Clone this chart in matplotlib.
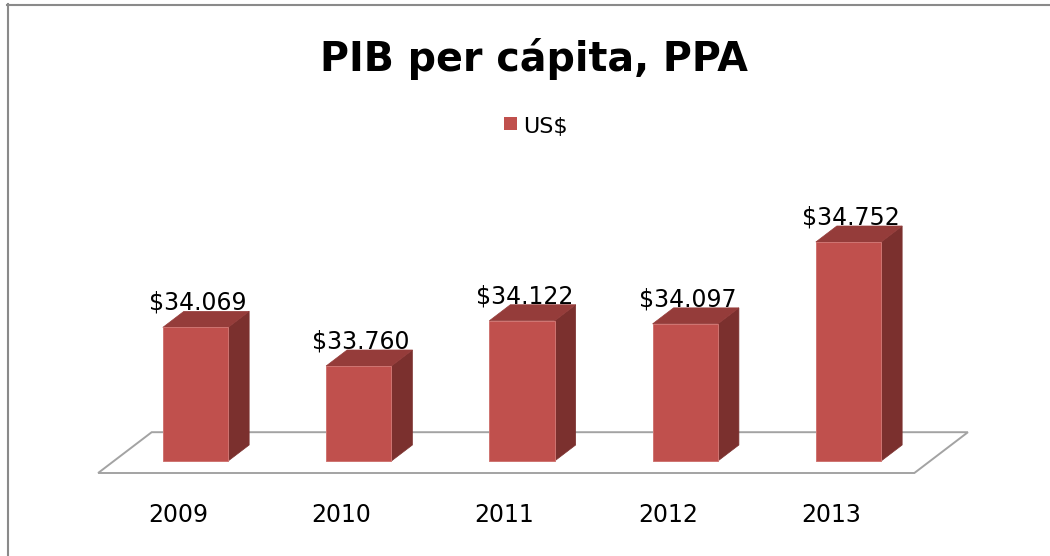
import matplotlib
matplotlib.use('Agg')
import matplotlib.pyplot as plt
from matplotlib.patches import Polygon, Rectangle
from matplotlib.lines import Line2D

years = ['2009', '2010', '2011', '2012', '2013']
gdp = [34069, 33760, 34122, 34097, 34752]
series_name = 'US$'
title = 'PIB per cápita, PPA'
y_min = 33000

W, H = 1050, 556
fig = plt.figure(figsize=(W / 100, H / 100), dpi=100)

# axes placed so that 1 category = 163.25 px and 1 value unit = 0.125 px
x_lo, x_hi = -0.7, 4.9
y_lo, y_hi = 32600, 35100
px_cat, px_val = 163.25, 0.125
left_px = 195.5 + x_lo * px_cat
bottom_px = 461 + (y_min - y_lo) * px_val
ax = fig.add_axes([left_px / W, (H - bottom_px) / H,
                   (x_hi - x_lo) * px_cat / W, (y_hi - y_lo) * px_val / H])
ax.set_xlim(x_lo, x_hi)
ax.set_ylim(y_lo, y_hi)
ax.axis('off')

front_c, top_c, side_c = '#C0504D', '#953C3A', '#7B302E'
bw = 0.4
dx, dy = 21 / px_cat, 16 / px_val  # depth of a bar in data units

# floor
n = len(years)
f0, f1 = -0.75, 1.8
floor = [(-0.5 + f0 * dx, y_min + f0 * dy), (n - 0.5 + f0 * dx, y_min + f0 * dy),
         (n - 0.5 + f1 * dx, y_min + f1 * dy), (-0.5 + f1 * dx, y_min + f1 * dy)]
ax.add_patch(Polygon(floor, closed=True, facecolor='white', edgecolor='#A3A3A3',
                     lw=1.4, zorder=1))

for i, v in enumerate(gdp):
    x0, x1 = i - bw / 2, i + bw / 2
    ax.add_patch(Polygon([(x1, y_min), (x1 + dx, y_min + dy), (x1 + dx, v + dy), (x1, v)],
                         closed=True, facecolor=side_c, edgecolor=side_c, lw=0.5, zorder=2))
    ax.add_patch(Polygon([(x0, v), (x1, v), (x1 + dx, v + dy), (x0 + dx, v + dy)],
                         closed=True, facecolor=top_c, edgecolor=top_c, lw=0.5, zorder=2))
    ax.add_patch(Rectangle((x0, y_min), bw, v - y_min, facecolor=front_c,
                           edgecolor='#CF7471', lw=0.7, zorder=3))
    lab = '$' + f'{v:,}'.replace(',', '.')
    ax.annotate(lab, xy=(i, v), xytext=(2.5, 17.5), textcoords='offset pixels',
                ha='center', va='baseline', fontsize=17, color='black', zorder=4)
    ax.annotate(years[i], xy=(i, y_min), xytext=(-17.5, -61), textcoords='offset pixels',
                ha='center', va='baseline', fontsize=17, color='black')

# title
fig.text(534 / W, 1 - 70.7 / H, title, ha='center', va='baseline',
         fontsize=28.5, fontweight='bold')

# legend
fig.patches.append(Rectangle((504 / W, 1 - 130 / H), 13 / W, 13 / H, facecolor=front_c,
                             edgecolor='none', transform=fig.transFigure, figure=fig))
fig.text(523 / W, 1 - 133.3 / H, series_name, ha='left', va='baseline', fontsize=16)

# outer frame (top and left edges visible)
fig.add_artist(Line2D([7 / W, 1], [1 - 5 / H, 1 - 5 / H], color='#8A8A8A', lw=1.5,
                      transform=fig.transFigure))
fig.add_artist(Line2D([8 / W, 8 / W], [0, 1 - 4 / H], color='#8A8A8A', lw=1.5,
                      transform=fig.transFigure))

fig.savefig('out.png', dpi=100)
